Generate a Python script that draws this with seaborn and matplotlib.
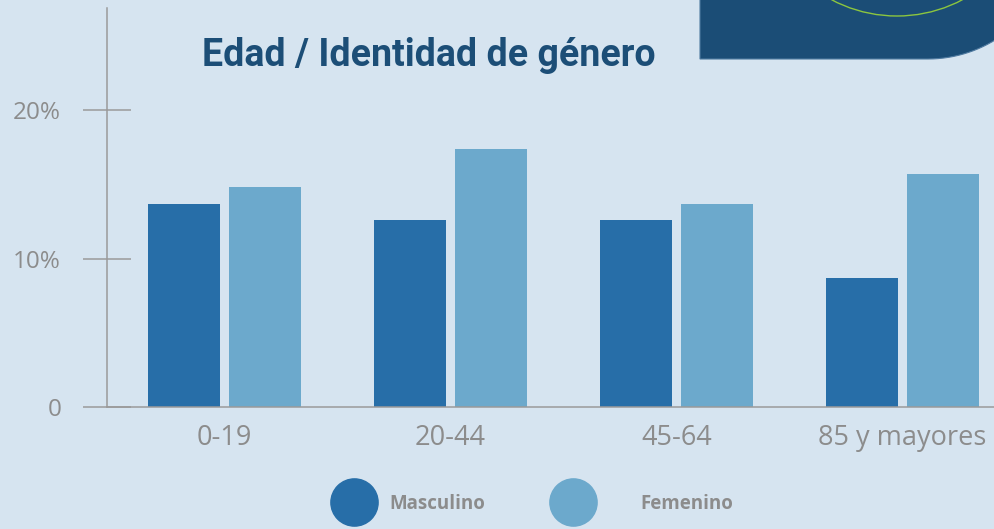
import numpy as np
import pandas as pd
import matplotlib.pyplot as plt
import matplotlib.transforms as mtransforms
from matplotlib.patches import Polygon, Circle
from matplotlib.lines import Line2D
import seaborn as sns

# =====================================================
# DATA
# =====================================================

grupos = ["0-19", "20-44", "45-64", "85 y mayores"]
masculino = [13.7, 12.6, 12.6, 8.7]
femenino = [14.8, 17.4, 13.7, 15.7]
generos = ["Masculino", "Femenino"]
colores = ["#276ea8", "#6ca9cc"]
y_ticks = [0, 10, 20]
y_labels = ["0", "10%", "20%"]

df = pd.DataFrame({
    "grupo": grupos * 2,
    "genero": [generos[0]] * len(grupos) + [generos[1]] * len(grupos),
    "valor": masculino + femenino,
})

# =====================================================
# FIGURE
# =====================================================

BG = "#d6e4f0"
GRIS = "#8c8c8c"
W, H = 995, 529

sns.set_style("white")
plt.rcParams["font.family"] = ["Open Sans", "DejaVu Sans"]

fig = plt.figure(figsize=(W / 100, H / 100), dpi=100, facecolor=BG)
ax = fig.add_axes([107 / W, (H - 407) / H, (W - 107) / W, (407 - 8) / H])
ax.set_facecolor(BG)

sns.barplot(data=df, x="grupo", y="valor", hue="genero", palette=colores,
            width=0.717, gap=0.111, saturation=1, linewidth=0, ax=ax,
            legend=False)

ax.set_xlim(-0.52, 3.41)
ax.set_ylim(0, 26.87)
ax.set_yticks(y_ticks)
ax.set_yticklabels(y_labels)
ax.set_xlabel("")
ax.set_ylabel("")

for s in ["top", "right"]:
    ax.spines[s].set_visible(False)
for s in ["left", "bottom"]:
    ax.spines[s].set_color("#9a9a9a")
    ax.spines[s].set_linewidth(1.1)
    ax.spines[s].set_zorder(5)

ax.tick_params(axis="y", left=True, direction="inout", length=35, width=1.1,
               color="#9a9a9a", pad=15.5, labelsize=17.5, labelcolor=GRIS)
ax.tick_params(axis="x", bottom=False, length=0, pad=12, labelsize=19.5,
               labelcolor=GRIS)

# title
fig.text(429 / W, 1 - 55 / H, "Edad / Identidad de género", ha="center",
         va="center", fontsize=27, fontweight="bold", color="#1c4e77",
         family=["Roboto", "DejaVu Sans"])

# decorative shape top-right
px = mtransforms.Affine2D().scale(1 / W, -1 / H).translate(0, 1) + fig.transFigure
ang = np.linspace(-np.pi / 2, 0, 40)
arc = np.column_stack([928 + 128 * np.cos(ang), -69 - 128 * np.sin(ang)])
pts = np.vstack([[[700, -10], [700, 59]], arc, [[1056, -10]]])
fig.patches.append(Polygon(pts, closed=True, facecolor="#1b4d76",
                           edgecolor="#4f7aa0", linewidth=0.8, transform=px))
fig.patches.append(Circle((897, -124), 140, fill=False, edgecolor="#8cc63f",
                          linewidth=1.0, transform=px))

# legend: one entry each, the text gap differs in the original
leg_x = [328, 547]
leg_pad = [0.5, 2.2]
for g, c, lx, lp in zip(generos, colores, leg_x, leg_pad):
    h = Line2D([], [], marker="o", linestyle="", markersize=34,
               markerfacecolor=c, markeredgecolor=c)
    leg = fig.legend([h], [g], loc="center left",
                     bbox_to_anchor=(lx / W, 1 - 504 / H), frameon=False,
                     borderpad=0, borderaxespad=0, handlelength=2.8,
                     handletextpad=lp, prop={"size": 13.5, "weight": "bold"})
    for t in leg.get_texts():
        t.set_color(GRIS)

fig.savefig("out.png", dpi=100, facecolor=BG)
